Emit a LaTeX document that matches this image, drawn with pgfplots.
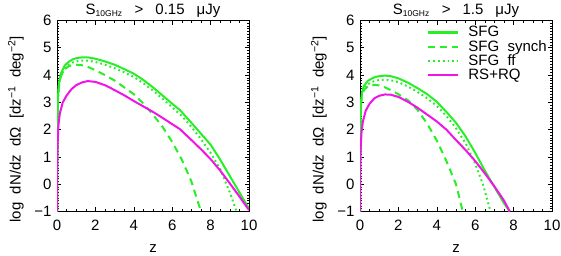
\documentclass[border=0pt]{standalone}
\usepackage{fontspec}
\setmainfont{Liberation Sans}
\usepackage{pgfplots}
\pgfplotsset{compat=1.18}
\definecolor{sfg}{RGB}{40,238,40}
\definecolor{rq}{RGB}{240,20,230}
\newcommand{\fs}{\fontsize{15}{17}\selectfont}
\pgfplotsset{
  myax/.style={
    width=192pt, height=191pt, scale only axis,
    xmin=0, xmax=10, ymin=-1, ymax=6,
    xtick={0,2,...,10}, ytick={-1,0,...,6},
    yticklabels={−1,0,1,2,3,4,5,6},
    minor x tick num=3, minor y tick num=9,
    tick align=inside, major tick length=4pt, minor tick length=2pt,
    tick style={black, line width=0.6pt},
    axis line style={line width=0.8pt},
    ticklabel style={font=\fs},
    /pgf/number format/assume math mode=true,
    xticklabel style={yshift=-5pt},
    yticklabel style={xshift=-2pt},
    xlabel={z}, xlabel style={font=\fs, at={(axis description cs:0.5,0)}, anchor=center, yshift=-37pt},
    ylabel={log\ \ dN/dz\ \ dΩ\ \ [dz\textsuperscript{−1}\ \ deg\textsuperscript{−2}]},
    ylabel style={font=\fs, at={(axis description cs:-0.214,0.43)}, anchor=center, rotate=0},
    title style={font=\fs, at={(axis description cs:0.5,1)}, anchor=base, inner sep=0pt},
    clip=true,
  },
  sfgsolid/.style={sfg, line width=2pt},
  sfgdash/.style={sfg, line width=2pt, dash pattern=on 7pt off 5pt},
  sfgdot/.style={sfg, line width=2pt, dash pattern=on 1.8pt off 3pt},
  rqsolid/.style={rq, line width=2pt},
}
\begin{document}
\begin{tikzpicture}
\useasboundingbox (0,0) rectangle (561pt,256pt);
\begin{axis}[myax, at={(57pt,44.5pt)}, anchor=south west,
  title={S\textsubscript{\fontsize{8.5}{9}\selectfont 10GHz}\hspace{12pt}>\hspace{12pt}0.15\hspace{12pt}μJy}]
\addplot[sfgsolid] coordinates {(0,-1)(0.02,2.0)(0.05,3.2)(0.1,3.7)(0.2,4.05)(0.4,4.35)(0.6,4.48)(0.8,4.57)(1.0,4.62)(1.3,4.65)(1.6,4.65)(2.0,4.6)(2.5,4.5)(3,4.38)(3.5,4.22)(4,4.05)(4.5,3.82)(5,3.55)(5.5,3.25)(6,2.95)(6.4,2.72)(7,2.25)(7.5,1.85)(8,1.45)(8.5,0.9)(9,0.3)(9.5,-0.3)(10,-0.9)};
\addplot[sfgdash] coordinates {(0,-1)(0.02,1.9)(0.05,3.1)(0.1,3.6)(0.2,3.95)(0.4,4.22)(0.6,4.32)(0.8,4.37)(1.0,4.38)(1.3,4.36)(1.6,4.3)(2.0,4.18)(2.5,4.0)(3.0,3.8)(3.5,3.55)(4.0,3.3)(4.5,2.95)(5.0,2.55)(5.5,2.1)(6.0,1.55)(6.5,0.9)(7.0,0.1)(7.5,-1.0)};
\addplot[sfgdot] coordinates {(0,-1)(0.02,1.9)(0.05,3.1)(0.1,3.6)(0.2,3.95)(0.4,4.25)(0.6,4.38)(0.8,4.46)(1.0,4.5)(1.3,4.53)(1.6,4.53)(2,4.48)(2.5,4.38)(3,4.25)(3.5,4.1)(4,3.93)(4.5,3.7)(5,3.43)(5.5,3.13)(6,2.82)(6.5,2.5)(7,2.1)(7.5,1.65)(8,1.15)(8.5,0.55)(9,-0.3)(9.35,-1)};
\addplot[rqsolid] coordinates {(0,-1)(0.01,0.5)(0.03,1.5)(0.08,2.2)(0.15,2.6)(0.3,3.0)(0.5,3.25)(0.75,3.48)(1.0,3.63)(1.3,3.73)(1.6,3.78)(2.0,3.75)(2.5,3.63)(3.0,3.45)(3.5,3.26)(4.0,3.05)(4.5,2.85)(5,2.65)(5.5,2.43)(6,2.2)(6.4,2.02)(7,1.62)(7.5,1.28)(8,0.92)(8.5,0.5)(9,0.03)(9.5,-0.45)(10,-0.95)};
\end{axis}
\begin{axis}[myax, at={(360pt,44.5pt)}, anchor=south west,
  title={S\textsubscript{\fontsize{8.5}{9}\selectfont 10GHz}\hspace{12pt}>\hspace{12pt}1.5\hspace{12pt}μJy},
  legend style={at={(axis description cs:0.349,0.975)}, anchor=north west, draw=none, fill=none,
    font=\fs, inner sep=0pt, row sep=0pt,
    nodes={inner sep=1pt},
    cells={anchor=west}},
  legend image code/.code={\draw[#1, line width=2.2pt] (0pt,0pt) -- (30pt,0pt);},
  legend cell align=left]
\addplot[sfgsolid] coordinates {(0,-1)(0.02,2.0)(0.05,3.0)(0.1,3.35)(0.2,3.6)(0.4,3.78)(0.6,3.87)(0.8,3.93)(1.0,3.96)(1.3,3.98)(1.6,3.96)(2,3.88)(2.5,3.72)(3,3.52)(3.5,3.3)(4,3.02)(4.5,2.65)(5,2.25)(5.5,1.75)(6,1.15)(6.5,0.5)(7,-0.1)(7.5,-0.7)(7.8,-1)};
\addlegendentry{\hspace{8pt}SFG}
\addplot[sfgdash] coordinates {(0,-1)(0.02,1.9)(0.05,2.9)(0.1,3.25)(0.2,3.45)(0.4,3.58)(0.6,3.63)(0.8,3.64)(1.0,3.62)(1.3,3.55)(1.6,3.45)(2.0,3.3)(2.5,3.08)(3.0,2.72)(3.5,2.22)(4.0,1.6)(4.5,0.85)(5.0,0.0)(5.35,-1)};
\addlegendentry{\hspace{8pt}SFG\ \ synch}
\addplot[sfgdot] coordinates {(0,-1)(0.02,1.9)(0.05,2.9)(0.1,3.25)(0.2,3.5)(0.4,3.66)(0.6,3.74)(0.8,3.79)(1.0,3.82)(1.3,3.83)(1.6,3.81)(2,3.74)(2.5,3.58)(3,3.38)(3.5,3.15)(4,2.87)(4.5,2.5)(5,2.05)(5.5,1.5)(6,0.75)(6.4,0.0)(6.8,-1)};
\addlegendentry{\hspace{8pt}SFG\ \ ff}
\addplot[rqsolid] coordinates {(0,-1)(0.01,0.5)(0.03,1.3)(0.08,1.9)(0.15,2.3)(0.3,2.7)(0.5,2.95)(0.75,3.15)(1.0,3.24)(1.3,3.29)(1.6,3.28)(2,3.2)(2.5,3.02)(3,2.8)(3.5,2.55)(4,2.3)(4.5,2.0)(5,1.62)(5.5,1.25)(6,0.85)(6.5,0.4)(7,-0.08)(7.5,-0.6)(7.8,-1)};
\addlegendentry{\hspace{8pt}RS+RQ}
\end{axis}
\end{tikzpicture}
\end{document}
